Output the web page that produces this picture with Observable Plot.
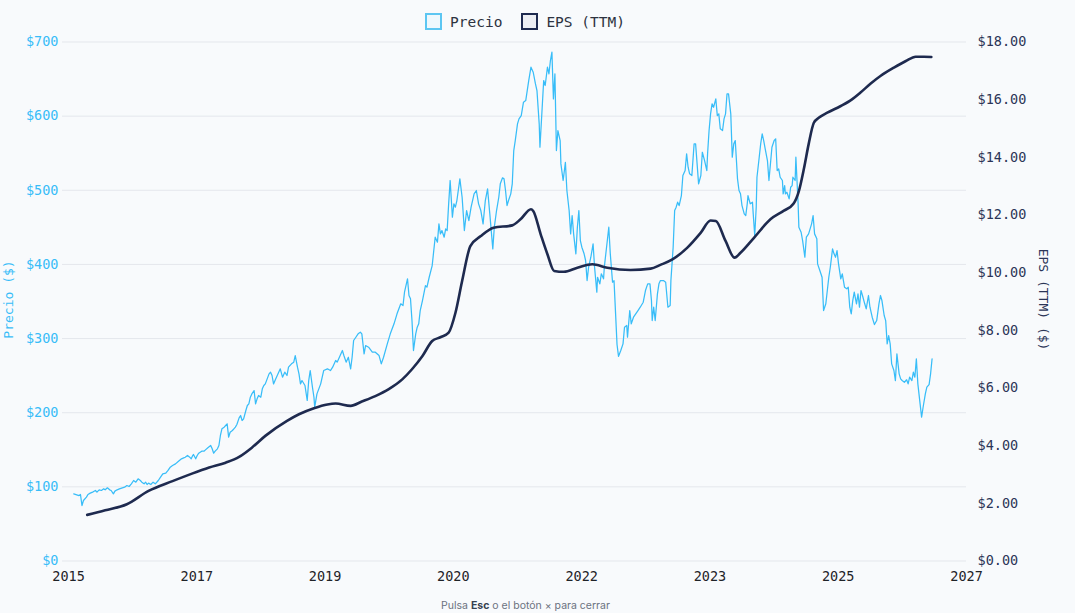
<!DOCTYPE html>
<html>
<head>
<meta charset="utf-8">
<script src="https://cdn.jsdelivr.net/npm/d3@7"></script>
<script src="https://cdn.jsdelivr.net/npm/@observablehq/plot@0.6"></script>
<style>
  html, body { margin: 0; padding: 0; background: #f8fafc; }
  #wrap { position: relative; width: 1075px; height: 613px; overflow: hidden; background: #f8fafc; }
  #chart { position: absolute; left: 0; top: 0; }
  .legend { position: absolute; top: 13px; left: 425px; display: flex; align-items: center; font-family: "DejaVu Sans Mono", monospace; font-size: 14.5px; color: #2d3340; }
  .legend .item { display: flex; align-items: center; margin-right: 19px; }
  .legend .sw { width: 13px; height: 13px; margin-right: 8px; box-sizing: content-box; }
  .ylab { position: absolute; font-family: "DejaVu Sans Mono", monospace; font-size: 13px; white-space: nowrap; }
  .footer { position: absolute; top: 599px; left: 0; width: 1051px; text-align: center; font-family: Inter, "Noto Sans", sans-serif; font-size: 10.5px; color: #6b7280; }
  .footer b { color: #374151; font-weight: 700; }
</style>
</head>
<body>
<div id="wrap">
  <div id="chart"></div>
  <div class="legend">
    <div class="item"><div class="sw" style="border:2px solid #5cc6f2;background:#eef8fd"></div><span>Precio</span></div>
    <div class="item"><div class="sw" style="border:2px solid #1e2a4f;background:#eceef3"></div><span>EPS (TTM)</span></div>
  </div>
  <div class="ylab" style="left:-32px;top:292px;transform:rotate(-90deg);color:#38bdf8;width:80px;text-align:center">Precio ($)</div>
  <div class="ylab" style="left:990px;top:292px;transform:rotate(90deg);color:#2b3557;width:106px;text-align:center">EPS (TTM) ($)</div>
  <div class="footer">Pulsa <b>Esc</b> o el botón × para cerrar</div>
</div>
<script>
// ---- Data ----
const priceDates = [
2015.07,2015.14,2015.16,2015.18,2015.20,2015.24,2015.26,2015.29,2015.33,2015.36,2015.38,2015.41,2015.44,2015.47,2015.49,2015.52,2015.55,2015.57,2015.60,2015.62,
2015.65,2015.68,2015.72,2015.75,2015.78,2015.81,2015.84,2015.87,2015.90,2015.93,2015.96,2015.98,2016.01,2016.03,2016.05,2016.07,2016.10,2016.13,2016.16,2016.20,
2016.23,2016.26,2016.30,2016.33,2016.36,2016.39,2016.43,2016.47,2016.51,2016.54,2016.56,2016.59,2016.62,2016.64,2016.66,2016.67,2016.70,2016.72,2016.74,2016.78,
2016.81,2016.83,2016.87,2016.90,2016.92,2016.94,2016.96,2016.99,2017.01,2017.03,2017.05,2017.08,2017.10,2017.12,2017.14,2017.16,2017.19,2017.21,2017.23,2017.25,
2017.28,2017.30,2017.32,2017.34,2017.37,2017.39,2017.41,2017.43,2017.45,2017.48,2017.50,2017.52,2017.54,2017.57,2017.59,2017.61,2017.63,2017.68,2017.70,2017.72,
2017.74,2017.77,2017.80,2017.83,2017.86,2017.89,2017.92,2017.94,2017.98,2018.01,2018.03,2018.06,2018.08,2018.10,2018.12,2018.16,2018.19,2018.21,2018.23,2018.26,
2018.28,2018.29,2018.32,2018.37,2018.41,2018.46,2018.50,2018.53,2018.57,2018.59,2018.62,2018.66,2018.68,2018.71,2018.74,2018.77,2018.79,2018.81,2018.84,2018.87,
2018.90,2018.92,2018.95,2018.97,2019.01,2019.06,2019.10,2019.15,2019.18,2019.21,2019.26,2019.30,2019.35,2019.39,2019.44,2019.47,2019.49,2019.53,2019.55,2019.57,
2019.59,2019.61,2019.64,2019.66,2019.68,2019.70,2019.73,2019.77,2019.79,2019.82,2019.86,2019.90,2019.93,2019.95,2019.97,2019.99,2020.02,2020.04,2020.06,2020.08,
2020.10,2020.13,2020.15,2020.17,2020.19,2020.23,2020.26,2020.29,2020.32,2020.35,2020.38,2020.42,2020.45,2020.48,2020.51,2020.54,2020.57,2020.60,2020.63,2020.67,
2020.69,2020.72,2020.75,2020.77,2020.80,2020.82,2020.84,2020.86,2020.88,2020.91,2020.93,2020.95,2020.97,2021.00,2021.02,2021.05,2021.08,2021.11,2021.13,2021.15,
2021.18,2021.21,2021.24,2021.26,2021.29,2021.30,2021.33,2021.35,2021.37,2021.40,2021.42,2021.44,2021.46,2021.48,2021.50,2021.52,2021.54,2021.57,2021.58,2021.61,
2021.64,2021.66,2021.69,2021.71,2021.73,2021.75,2021.78,2021.80,2021.82,2021.84,2021.86,2021.89,2021.91,2021.93,2021.95,2021.98,2022.01,2022.03,2022.06,2022.07,
2022.10,2022.12,2022.15,2022.16,2022.19,2022.22,2022.24,2022.27,2022.29,2022.31,2022.33,2022.35,2022.38,2022.41,2022.43,2022.46,2022.47,2022.50,2022.52,2022.55,
2022.58,2022.61,2022.64,2022.68,2022.71,2022.74,2022.77,2022.79,2022.80,2022.82,2022.84,2022.87,2022.89,2022.91,2022.95,2022.98,2023.01,2023.04,2023.05,2023.08,
2023.10,2023.12,2023.14,2023.16,2023.19,2023.21,2023.24,2023.26,2023.28,2023.30,2023.33,2023.36,2023.38,2023.40,2023.42,2023.45,2023.47,2023.50,2023.53,2023.54,
2023.56,2023.58,2023.60,2023.62,2023.65,2023.67,2023.69,2023.71,2023.74,2023.76,2023.78,2023.80,2023.82,2023.85,2023.87,2023.89,2023.91,2023.94,2023.96,2023.98,
2024.00,2024.03,2024.05,2024.07,2024.08,2024.11,2024.14,2024.15,2024.17,2024.19,2024.20,2024.23,2024.25,2024.27,2024.29,2024.31,2024.34,2024.36,2024.38,2024.40,
2024.43,2024.45,2024.47,2024.49,2024.51,2024.54,2024.55,2024.57,2024.58,2024.60,2024.63,2024.65,2024.67,2024.68,2024.71,2024.72,2024.75,2024.76,2024.79,2024.81,
2024.84,2024.86,2024.89,2024.93,2024.95,2024.97,2025.00,2025.01,2025.04,2025.07,2025.09,2025.12,2025.14,2025.16,2025.18,2025.21,2025.23,2025.25,2025.27,2025.29,
2025.32,2025.34,2025.37,2025.40,2025.42,2025.44,2025.46,2025.48,2025.50,2025.53,2025.55,2025.57,2025.59,2025.61,2025.64,2025.66,2025.69,2025.71,2025.74,2025.77,
2025.80,2025.83,2025.85,2025.87,2025.90,2025.92,2025.94,2025.96,2025.98,2026.00,2026.03,2026.05,2026.07,2026.10,2026.12,2026.14,2026.17,2026.20,2026.22,2026.24,
2026.27,2026.29,2026.31,2026.33,2026.35,2026.38,2026.40,2026.42,2026.45,2026.47,2026.50,2026.52,2026.54
];
const priceValues = [
90.6,88.3,89.7,74.8,81.6,86.1,89.7,91.5,93.3,95.1,92.8,96.0,95.1,97.3,96.0,98.7,96.0,95.1,90.6,94.2,
96.0,97.3,98.7,99.6,101.8,100.5,104.1,108.6,106.3,110.8,108.6,106.3,104.1,106.3,103.2,105.0,103.2,106.3,104.1,108.6,
113.1,117.5,118.5,122.1,126.6,128.8,131.0,134.6,137.8,139.1,140.0,142.3,140.0,137.8,142.3,143.6,137.8,142.3,145.4,148.1,
148.1,149.9,153.5,155.8,151.3,145.4,148.1,151.3,155.8,169.3,178.3,180.5,182.7,185.0,167.0,173.7,176.0,178.3,180.5,184.1,
193.1,196.2,189.5,191.7,203.0,209.7,211.9,220.9,225.4,229.9,211.9,218.7,223.2,220.9,232.2,236.7,238.9,252.4,254.7,250.2,
238.9,245.7,252.4,259.2,247.9,254.7,250.2,261.4,265.9,268.2,277.1,261.4,252.4,238.9,243.4,236.7,216.5,243.4,256.9,234.4,
220.9,207.4,225.4,238.9,256.9,259.2,256.9,261.4,270.4,268.2,274.8,283.9,277.1,268.2,274.8,259.2,274.8,297.4,301.8,306.4,
308.6,306.4,279.4,290.6,288.3,281.6,281.6,277.1,265.9,274.8,292.9,306.4,319.9,333.4,346.9,344.6,362.5,380.6,358.1,353.6,
324.3,283.9,306.4,315.3,319.9,337.8,351.3,371.5,369.3,382.7,398.5,436.7,430.0,454.7,441.2,445.7,436.7,448.0,445.7,481.7,
513.2,463.7,481.7,477.2,486.2,515.4,490.6,445.7,472.7,459.2,477.2,495.2,499.7,481.7,472.7,454.7,486.2,501.9,468.2,421.0,
450.2,472.7,490.6,508.7,516.8,515.4,499.7,479.4,486.2,495.2,508.7,553.6,567.1,589.6,596.4,600.8,618.8,621.0,634.5,648.0,
666.0,659.2,643.5,634.5,589.6,558.1,612.0,648.0,641.3,666.0,657.0,675.0,686.2,623.3,657.0,553.6,580.6,567.1,535.6,513.2,
537.8,499.7,472.7,441.2,465.9,441.2,414.3,450.2,472.7,432.2,423.2,414.3,405.3,378.3,396.2,409.7,427.8,396.2,362.5,382.7,
373.8,387.3,380.6,396.2,423.2,450.2,414.3,376.0,378.0,335.0,292.0,276.0,283.9,292.9,315.3,317.6,301.8,337.8,319.9,328.8,
333.4,337.8,342.3,349.0,364.8,373.8,373.8,351.3,324.3,342.3,324.3,360.4,373.8,378.3,378.3,376.0,342.3,344.6,378.3,423.2,
472.7,477.2,483.9,479.4,492.9,519.9,526.6,549.2,531.1,522.2,519.9,562.6,562.6,535.6,508.7,519.9,551.3,540.1,526.6,549.2,
580.6,603.1,616.6,612.0,623.3,600.8,603.1,582.9,580.6,596.4,603.1,630.1,630.1,603.1,544.6,562.6,567.1,515.4,499.7,495.2,
479.4,468.2,465.9,481.7,492.9,481.7,483.9,468.2,439.0,477.2,517.6,544.6,563.0,576.1,567.1,555.9,540.1,513.2,535.6,558.1,
567.1,569.4,526.6,528.9,517.6,513.2,495.2,506.4,495.2,497.4,488.5,504.1,506.4,517.6,513.2,544.6,481.7,450.2,443.4,432.2,
409.7,436.7,441.2,454.7,465.9,441.2,434.5,400.8,391.8,382.7,337.8,346.9,364.8,382.7,396.2,421.0,414.3,409.7,418.7,400.8,
380.6,387.3,369.3,367.1,369.3,342.3,333.4,351.3,362.5,346.9,360.4,342.3,364.8,358.1,346.9,340.1,358.1,342.3,328.8,318.9,
324.3,346.9,358.1,351.3,331.1,324.3,292.9,304.1,292.9,265.9,256.9,243.4,279.4,252.4,245.7,243.4,241.1,244.4,238.9,247.9,
243.4,254.6,247.9,272.7,238.9,212.0,193.9,207.4,225.4,234.4,238.0,252.4,272.7
];
const epsDates = [
2015.25,2015.49,2015.78,2016.07,2016.39,2016.65,2016.88,2017.10,2017.28,2017.45,2017.63,2017.92,2018.08,2018.28,2018.46,2018.57,2018.77,2018.92,
2019.10,2019.28,2019.46,2019.59,2019.73,2019.86,2019.97,2020.08,2020.17,2020.26,2020.37,2020.51,2020.68,2020.93,2021.04,2021.18,2021.21,2021.31,
2021.40,2021.49,2021.62,2021.80,2022.00,2022.20,2022.51,2022.78,2022.91,2023.07,2023.27,2023.45,2023.58,2023.65,2023.78,2023.90,2023.98,2024.16,
2024.38,2024.56,2024.69,2024.76,2024.83,2024.89,2024.96,2025.03,2025.14,2025.32,2025.47,2025.58,2025.72,2025.85,2026.03,2026.19,2026.32,2026.43,2026.53
];
const epsValues = [
1.60,1.76,1.97,2.43,2.77,3.03,3.24,3.41,3.61,3.93,4.34,4.86,5.09,5.30,5.43,5.46,5.38,5.53,
5.72,5.96,6.30,6.65,7.11,7.63,7.76,7.92,8.60,9.71,10.92,11.27,11.56,11.64,11.85,12.20,12.14,11.33,
10.64,10.06,10.03,10.17,10.29,10.17,10.09,10.14,10.27,10.46,10.87,11.39,11.81,11.79,11.10,10.52,10.69,11.21,
11.85,12.15,12.40,12.83,13.64,14.45,15.20,15.38,15.55,15.78,16.01,16.24,16.56,16.82,17.11,17.34,17.49,17.49,17.48
];
const priceTicks = [0, 100, 200, 300, 400, 500, 600, 700];
const epsTicks = [0, 2, 4, 6, 8, 10, 12, 14, 16, 18];
const xTickLabels = ["2015", "2017", "2019", "2020", "2022", "2023", "2025", "2027"];
const xDomain = [2015, 2027];
const priceMax = 700, epsMax = 18;

// ---- Chart ----
const toPrice = v => v * priceMax / epsMax;
const xTickPos = xTickLabels.map((_, i) => xDomain[0] + i * (xDomain[1] - xDomain[0]) / (xTickLabels.length - 1));
const priceData = priceValues.map((v, i) => ({x: priceDates[i], y: v}));
const epsData = epsValues.map((v, i) => ({x: epsDates[i], y: toPrice(v)}));

const chart = Plot.plot({
  width: 1075,
  height: 613,
  marginTop: 41.5,
  marginBottom: 52.5,
  marginLeft: 68,
  marginRight: 109,
  style: {background: "transparent", fontFamily: "'DejaVu Sans Mono', monospace", overflow: "visible"},
  x: {type: "linear", domain: xDomain},
  y: {domain: [0, priceMax]},
  marks: [
    Plot.ruleY(priceTicks, {stroke: "#e4e7ec", strokeWidth: 1, insetLeft: -6}),
    Plot.axisY(priceTicks, {anchor: "left", tickSize: 0, tickPadding: 10, tickFormat: d => "$" + d, fill: "#38bdf8", fontSize: 13.5, label: null}),
    Plot.axisY(epsTicks.map(toPrice), {anchor: "right", tickSize: 0, tickPadding: 11, tickFormat: d => "$" + (d * epsMax / priceMax).toFixed(2), fill: "#2b3557", fontSize: 13.5, label: null}),
    Plot.axisX(xTickPos, {anchor: "bottom", tickSize: 0, tickPadding: 10, tickFormat: (d, i) => xTickLabels[i], fill: "#1f2328", fontSize: 13.5, label: null}),
    Plot.line(priceData, {x: "x", y: "y", stroke: "#38bdf8", strokeWidth: 1.25}),
    Plot.line(epsData, {x: "x", y: "y", stroke: "#1e2a4f", strokeWidth: 2.6, curve: "monotone-x"})
  ]
});
document.getElementById("chart").appendChild(chart);
</script>
</body>
</html>
